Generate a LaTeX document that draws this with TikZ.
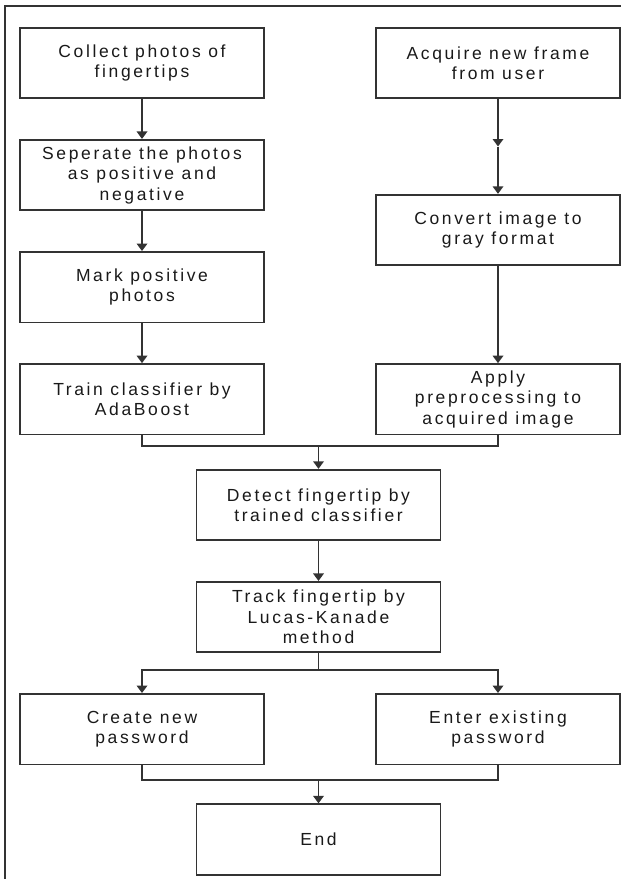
\documentclass[tikz,border=0pt]{standalone}
\usepackage{fontspec}
\newfontfamily\flowfont{Liberation Sans}[LetterSpace=15]
\usetikzlibrary{arrows.meta, positioning}
\definecolor{inkgray}{HTML}{333333}
\tikzset{x=1pt, y=-1pt, node distance=39.8pt, >={Triangle[width=10.5pt,length=7.5pt]},
	process/.style={rectangle, draw=inkgray, line width=1.8pt, minimum width=244pt, minimum height=70.5pt, inner sep=2pt, align=center, text=black!90, font=\flowfont\fontsize{17.5}{20.5}\selectfont},
	link/.style={draw=inkgray, line width=1.8pt}}

\begin{document}
\begin{tikzpicture}
	\useasboundingbox (0,0) rectangle (621,879);
	\draw[inkgray, line width=1.2pt] (621,6) -- (5,6) -- (5,879);

	% training side
	\node[process] (collect) at (142,63) {Collect photos of\\fingertips};
	\node[process, below=of collect] (separate) {Seperate the photos\\as positive and\\negative};
	\node[process, below=of separate] (mark) {Mark positive\\photos};
	\node[process, below=of mark] (train) {Train classifier by\\AdaBoost};

	% camera side
	\node[process] (acquire) at (498,63) {Acquire new frame\\from user};
	\node[process] (convert) at (498,230) {Convert image to\\gray format};
	\node[process] (apply) at (acquire |- train) {Apply\\preprocessing to\\acquired image};

	% common part
	\node[process] (detect) at (318.5,505) {Detect fingertip by\\trained classifier};
	\node[process, below=of detect] (track) {Track fingertip by\\Lucas-Kanade\\method};
	\node[process, below=of track, xshift=-176.5pt] (create) {Create new\\password};
	\node[process, below=of track, xshift=179.5pt] (enter) {Enter existing\\password};
	\node[process, below=150.1pt of track] (finish) {End};

	\coordinate (midway) at (498,146.5);
	\coordinate[above=23pt of detect] (gatherA);
	\coordinate[below=17pt of track] (fork);
	\coordinate[above=23pt of finish] (gatherB);

	\path[->, every edge/.append style={link}]
		(collect) edge (separate)
		(separate) edge (mark)
		(mark) edge (train)
		(acquire) edge (midway)
		(midway) edge (convert)
		(convert) edge (apply)
		(gatherA) edge (detect)
		(detect) edge (track)
		(gatherB) edge (finish)
		;
	\draw[link] (train) |- (gatherA) -| (apply);
	\draw[link] (track) -- (fork);
	\draw[link, ->] (fork) -| (create);
	\draw[link, ->] (fork) -| (enter);
	\draw[link] (create) |- (gatherB) -| (enter);
\end{tikzpicture}
\end{document}
